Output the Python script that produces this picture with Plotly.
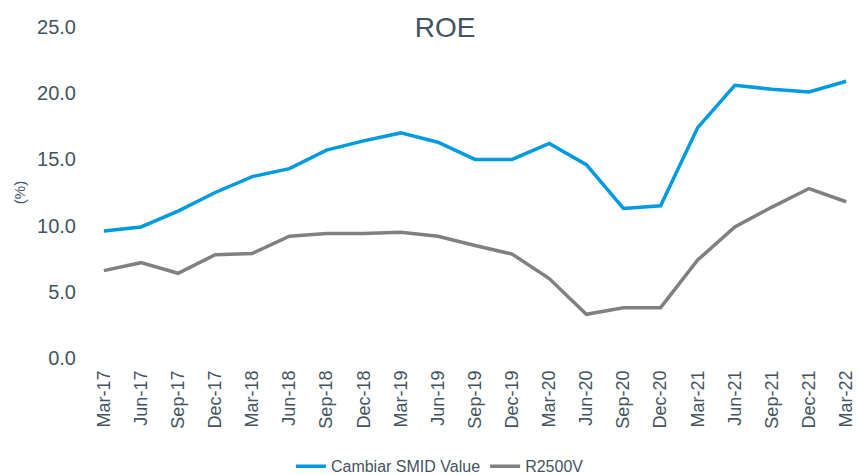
import plotly.graph_objects as go

quarters = ["Mar-17", "Jun-17", "Sep-17", "Dec-17", "Mar-18", "Jun-18", "Sep-18",
            "Dec-18", "Mar-19", "Jun-19", "Sep-19", "Dec-19", "Mar-20", "Jun-20",
            "Sep-20", "Dec-20", "Mar-21", "Jun-21", "Sep-21", "Dec-21", "Mar-22"]
cambiar = [9.6, 9.9, 11.1, 12.5, 13.7, 14.3, 15.7, 16.4, 17.0, 16.3, 15.0, 15.0,
           16.2, 14.6, 11.3, 11.5, 17.4, 20.6, 20.3, 20.1, 20.9]
r2500v = [6.6, 7.2, 6.4, 7.8, 7.9, 9.2, 9.4, 9.4, 9.5, 9.2, 8.5, 7.85,
          6.0, 3.3, 3.8, 3.8, 7.4, 9.9, 11.4, 12.8, 11.8]
y_ticks = [0, 5, 10, 15, 20, 25]

TEXT = "#44535f"
FONT = "Liberation Sans, Arial, sans-serif"

fig = go.Figure()
fig.add_trace(go.Scatter(x=quarters, y=cambiar, mode="lines", name="Cambiar SMID Value",
                         line=dict(color="#009ade", width=3.5)))
fig.add_trace(go.Scatter(x=quarters, y=r2500v, mode="lines", name="R2500V",
                         line=dict(color="#808080", width=3.5)))

fig.update_layout(
    width=859, height=475,
    margin=dict(l=102, r=11, t=27, b=117, autoexpand=False),
    paper_bgcolor="white", plot_bgcolor="white",
    font=dict(family=FONT, color=TEXT),
    title=dict(text="ROE", x=445 / 859, xref="container", xanchor="center",
               y=1 - 27 / 475, yref="container", yanchor="middle",
               font=dict(size=28, color=TEXT, family=FONT)),
    showlegend=True,
    legend=dict(orientation="h", x=0.453, xanchor="center", y=-0.327, yanchor="middle",
                font=dict(size=16, color=TEXT), itemwidth=30, tracegroupgap=0),
    xaxis=dict(type="category", range=[-0.05, 20.05], showgrid=False, showline=False,
               zeroline=False, ticks="", tickangle=-90, ticklabelstandoff=8,
               automargin=False, tickfont=dict(size=18, color=TEXT)),
    yaxis=dict(range=[0, 25], tickvals=y_ticks, tickformat=".1f", showgrid=False,
               showline=False, zeroline=False, ticks="", ticklabelstandoff=25,
               automargin=False, tickfont=dict(size=20, color=TEXT),
               title=dict(text="(%)", font=dict(size=15, color=TEXT), standoff=7)),
)

fig.write_html("out.html", config={"displayModeBar": False},
               post_script="document.body.style.margin='0';document.body.style.overflow='hidden';")
